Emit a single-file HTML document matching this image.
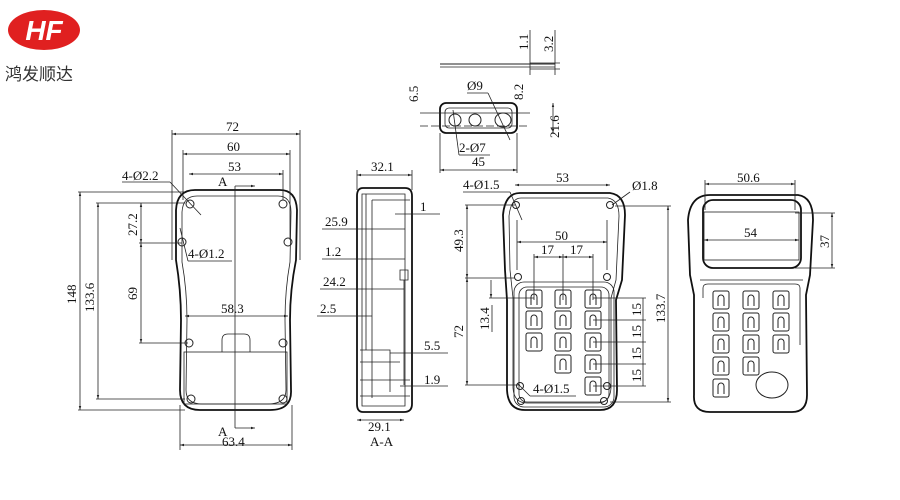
<!DOCTYPE html>
<html><head><meta charset="utf-8"><style>
body{margin:0;background:#fff;}
svg{display:block;}
text{font-family:"Liberation Serif","Noto Serif CJK SC",serif;font-size:13px;fill:#111;}
.l{stroke:#222;stroke-width:1;fill:none;}
.t{stroke:#222;stroke-width:0.8;fill:none;}
.o{stroke:#111;stroke-width:1.8;fill:none;}
</style></head><body>
<svg width="900" height="500" viewBox="0 0 900 500" xmlns="http://www.w3.org/2000/svg">
<defs>
<marker id="a" viewBox="0 0 10 10" refX="10" refY="5" markerWidth="7" markerHeight="5" orient="auto-start-reverse"><path d="M0,2L10,5L0,8z" fill="#222"/></marker>
<g id="key"><rect x="-8" y="-9" width="16" height="18" rx="2" class="l"/><path d="M-3,6V-2A3,3 0 1 1 3,-2V6" class="l"/></g>
</defs>
<!-- logo -->
<ellipse cx="44" cy="30" rx="36" ry="20" fill="#e02020"/>
<text x="44" y="40" text-anchor="middle" style="font-family:'Liberation Sans',sans-serif;font-size:28px;font-weight:bold;font-style:italic;fill:#fff">HF</text>
<text x="5" y="80" style="font-family:'Liberation Sans','Noto Sans CJK SC',sans-serif;font-size:17px;fill:#333">鸿发顺达</text>

<!-- VIEW 1 -->
<path class="o" d="M195,190 H280 Q296,190 297,210 L296,260 Q290,290 290,320 L291,390 Q292,410 270,410 H200 Q180,410 180,390 L181,320 Q181,290 176,260 L176,210 Q177,190 195,190Z"/>
<path class="t" d="M197,196 H278 Q291,196 291,212 L290,262 Q285,290 285,320 L286,390 Q286,404 268,404 H202 Q186,404 186,390 L187,320 Q187,290 182,262 L182,212 Q183,196 197,196Z"/>
<rect x="184" y="352" width="103" height="52" class="t"/>
<path class="t" d="M222,352 V340 Q222,334 228,334 H244 Q250,334 250,340 V352"/>
<circle cx="190" cy="204" r="4" class="l"/><circle cx="283" cy="204" r="4" class="l"/>
<circle cx="182" cy="242" r="4" class="l"/><circle cx="288" cy="242" r="4" class="l"/>
<circle cx="189" cy="343" r="4" class="l"/><circle cx="283" cy="343" r="4" class="l"/>
<circle cx="191" cy="399" r="4" class="l"/><circle cx="283" cy="399" r="4" class="l"/>
<line x1="235" y1="186" x2="235" y2="428" class="t"/>
<line x1="235" y1="186" x2="255" y2="186" class="t" marker-end="url(#a)"/>
<line x1="235" y1="428" x2="255" y2="428" class="t" marker-end="url(#a)"/>
<text x="218" y="186">A</text><text x="218" y="436">A</text>
<line x1="172" y1="134" x2="300" y2="134" class="t" marker-start="url(#a)" marker-end="url(#a)"/>
<line x1="172" y1="130" x2="172" y2="260" class="t"/><line x1="300" y1="130" x2="300" y2="260" class="t"/>
<text x="226" y="131">72</text>
<line x1="183" y1="154" x2="290" y2="154" class="t" marker-start="url(#a)" marker-end="url(#a)"/>
<line x1="183" y1="150" x2="183" y2="200" class="t"/><line x1="290" y1="150" x2="290" y2="240" class="t"/>
<text x="227" y="151">60</text>
<line x1="189" y1="174" x2="283" y2="174" class="t" marker-start="url(#a)" marker-end="url(#a)"/>
<line x1="283" y1="170" x2="283" y2="200" class="t"/>
<text x="228" y="171">53</text>
<text x="122" y="180">4-Ø2.2</text><line x1="122" y1="182" x2="170" y2="182" class="t"/><line x1="170" y1="182" x2="201" y2="215" class="t"/>
<text x="188" y="258">4-Ø1.2</text><line x1="188" y1="261" x2="232" y2="261" class="t"/><line x1="188" y1="261" x2="180" y2="228" class="t"/>
<line x1="80" y1="192" x2="80" y2="410" class="t" marker-start="url(#a)" marker-end="url(#a)"/>
<line x1="78" y1="192" x2="185" y2="192" class="t"/><line x1="78" y1="410" x2="185" y2="410" class="t"/>
<text transform="translate(76,304) rotate(-90)">148</text>
<line x1="98" y1="203" x2="98" y2="399" class="t" marker-start="url(#a)" marker-end="url(#a)"/>
<line x1="96" y1="203" x2="185" y2="203" class="t"/><line x1="96" y1="399" x2="185" y2="399" class="t"/>
<text transform="translate(94,312) rotate(-90)">133.6</text>
<line x1="141" y1="203" x2="141" y2="243" class="t" marker-start="url(#a)" marker-end="url(#a)"/>
<line x1="139" y1="243" x2="182" y2="243" class="t"/>
<text transform="translate(137,236) rotate(-90)">27.2</text>
<line x1="141" y1="243" x2="141" y2="343" class="t" marker-start="url(#a)" marker-end="url(#a)"/>
<line x1="139" y1="343" x2="188" y2="343" class="t"/>
<text transform="translate(137,300) rotate(-90)">69</text>
<line x1="185" y1="316" x2="288" y2="316" class="t" marker-start="url(#a)" marker-end="url(#a)"/>
<text x="221" y="313">58.3</text>
<line x1="180" y1="445" x2="292" y2="445" class="t" marker-start="url(#a)" marker-end="url(#a)"/>
<line x1="180" y1="405" x2="180" y2="450" class="t"/><line x1="292" y1="405" x2="292" y2="450" class="t"/>
<text x="222" y="446">63.4</text>

<!-- VIEW 2 section -->
<path class="o" d="M363,188 H405 Q412,188 412,196 V404 Q412,412 404,412 H363 Q357,412 357,404 V196 Q357,188 363,188Z"/>
<path class="t" d="M362,194 H405 V406 H362 Z M366,194 V350 M372,200 H410 M372,200 V398 M400,270 H408 V280 H400Z M404,280 V385 M360,350 H390 V392 M360,362 H400 M360,380 H410 M360,396 H410"/>
<line x1="357" y1="175" x2="412" y2="175" class="t" marker-start="url(#a)" marker-end="url(#a)"/>
<line x1="357" y1="170" x2="357" y2="190" class="t"/><line x1="412" y1="170" x2="412" y2="190" class="t"/>
<text x="371" y="171">32.1</text>
<line x1="357" y1="420" x2="404" y2="420" class="t" marker-start="url(#a)" marker-end="url(#a)"/>
<text x="368" y="431">29.1</text>
<text x="370" y="446">A-A</text>
<text x="325" y="226">25.9</text><line x1="322" y1="229" x2="405" y2="229" class="t"/>
<text x="325" y="256">1.2</text><line x1="322" y1="259" x2="405" y2="259" class="t"/>
<text x="323" y="286">24.2</text><line x1="320" y1="289" x2="404" y2="289" class="t"/>
<text x="320" y="313">2.5</text><line x1="317" y1="316" x2="372" y2="316" class="t"/>
<text x="420" y="211">1</text><line x1="395" y1="214" x2="440" y2="214" class="t"/>
<text x="424" y="350">5.5</text><line x1="390" y1="353" x2="448" y2="353" class="t"/>
<text x="424" y="384">1.9</text><line x1="400" y1="386" x2="448" y2="386" class="t"/>

<!-- top part -->
<line x1="440" y1="64" x2="555" y2="64" class="l"/><line x1="440" y1="67" x2="555" y2="67" class="t"/>
<line x1="530" y1="63" x2="560" y2="63" class="t"/><line x1="530" y1="69" x2="560" y2="69" class="t"/>
<line x1="530" y1="30" x2="530" y2="75" class="t"/><line x1="555" y1="30" x2="555" y2="75" class="t"/>
<text transform="translate(528,50) rotate(-90)">1.1</text><text transform="translate(553,52) rotate(-90)">3.2</text>
<rect x="440" y="103" width="77" height="30" rx="6" class="o"/>
<rect x="445" y="108" width="67" height="20" rx="4" class="t"/>
<line x1="420" y1="113" x2="530" y2="113" class="t"/><line x1="420" y1="126" x2="530" y2="126" class="t" stroke-dasharray="8,3"/>
<ellipse cx="455" cy="120" rx="6" ry="6" class="l"/><ellipse cx="475" cy="120" rx="6" ry="6" class="l"/><ellipse cx="503" cy="120" rx="8" ry="7" class="l"/>
<text transform="translate(418,102) rotate(-90)">6.5</text>
<text transform="translate(523,100) rotate(-90)">8.2</text>
<text transform="translate(559,138) rotate(-90)">21.6</text>
<line x1="553" y1="103" x2="553" y2="133" class="t" marker-start="url(#a)" marker-end="url(#a)"/>
<text x="467" y="90">Ø9</text><line x1="467" y1="93" x2="488" y2="93" class="t"/><line x1="488" y1="93" x2="510" y2="140" class="t"/>
<text x="459" y="152">2-Ø7</text><line x1="459" y1="155" x2="490" y2="155" class="t"/><line x1="459" y1="155" x2="453" y2="110" class="t"/>
<line x1="440" y1="170" x2="517" y2="170" class="t" marker-start="url(#a)" marker-end="url(#a)"/>
<line x1="440" y1="133" x2="440" y2="173" class="t"/><line x1="517" y1="133" x2="517" y2="173" class="t"/>
<text x="472" y="166">45</text>

<!-- VIEW 3 -->
<path class="o" d="M520,193 H610 Q625,195 625,215 L622,280 L616,300 L617,390 Q617,410 600,410 H525 Q508,410 507,390 L507,300 L505,270 L503,215 Q505,193 520,193Z"/>
<path class="t" d="M521,198 H608 Q619,200 619,216 L616,280 L611,298 L611,388 Q610,403 598,403 H527 Q514,403 513,388 L513,298 L510,270 L509,216 Q511,198 521,198Z"/>
<rect x="514" y="282" width="100" height="125" rx="10" class="t"/>
<rect x="519" y="287" width="90" height="115" rx="8" class="t"/>
<circle cx="516" cy="205" r="3.5" class="l"/><circle cx="610" cy="205" r="3.5" class="l"/>
<circle cx="518" cy="277" r="3.5" class="l"/><circle cx="607" cy="277" r="3.5" class="l"/>
<circle cx="520" cy="386" r="3.5" class="l"/><circle cx="607" cy="386" r="3.5" class="l"/>
<circle cx="521" cy="401" r="3.5" class="l"/><circle cx="604" cy="401" r="3.5" class="l"/>
<use href="#key" x="534" y="299"/><use href="#key" x="563" y="299"/><use href="#key" x="593" y="299"/>
<use href="#key" x="534" y="320"/><use href="#key" x="563" y="320"/><use href="#key" x="593" y="320"/>
<use href="#key" x="534" y="342"/><use href="#key" x="563" y="342"/><use href="#key" x="593" y="342"/>
<use href="#key" x="563" y="364"/><use href="#key" x="593" y="364"/>
<use href="#key" x="593" y="386"/>
<line x1="515" y1="185" x2="610" y2="185" class="t" marker-start="url(#a)" marker-end="url(#a)"/>
<text x="556" y="182">53</text>
<text x="463" y="189">4-Ø1.5</text><line x1="463" y1="192" x2="510" y2="192" class="t"/><line x1="510" y1="192" x2="522" y2="220" class="t"/>
<text x="632" y="190">Ø1.8</text><line x1="630" y1="192" x2="612" y2="205" class="t"/>
<line x1="517" y1="242" x2="607" y2="242" class="t" marker-start="url(#a)" marker-end="url(#a)"/>
<line x1="517" y1="220" x2="517" y2="270" class="t"/><line x1="607" y1="220" x2="607" y2="270" class="t"/>
<text x="555" y="240">50</text>
<line x1="534" y1="257" x2="563" y2="257" class="t" marker-start="url(#a)" marker-end="url(#a)"/>
<line x1="563" y1="257" x2="593" y2="257" class="t" marker-start="url(#a)" marker-end="url(#a)"/>
<line x1="534" y1="254" x2="534" y2="300" class="t"/><line x1="563" y1="254" x2="563" y2="300" class="t"/><line x1="593" y1="254" x2="593" y2="300" class="t"/>
<text x="541" y="254">17</text><text x="570" y="254">17</text>
<line x1="467" y1="205" x2="467" y2="278" class="t" marker-start="url(#a)" marker-end="url(#a)"/>
<line x1="465" y1="205" x2="515" y2="205" class="t"/><line x1="465" y1="278" x2="515" y2="278" class="t"/>
<text transform="translate(463,252) rotate(-90)">49.3</text>
<line x1="467" y1="278" x2="467" y2="385" class="t" marker-start="url(#a)" marker-end="url(#a)"/>
<line x1="465" y1="385" x2="520" y2="385" class="t"/>
<text transform="translate(463,338) rotate(-90)">72</text>
<line x1="491" y1="280" x2="491" y2="298" class="t" marker-end="url(#a)"/>
<line x1="489" y1="298" x2="534" y2="298" class="t"/>
<text transform="translate(489,330) rotate(-90)">13.4</text><line x1="492" y1="332" x2="492" y2="305" class="t"/>
<text x="533" y="393">4-Ø1.5</text><line x1="530" y1="396" x2="576" y2="396" class="t"/><line x1="530" y1="396" x2="518" y2="384" class="t"/>
<line x1="643" y1="298" x2="643" y2="386" class="t"/>
<line x1="593" y1="298" x2="646" y2="298" class="t"/><line x1="593" y1="320" x2="646" y2="320" class="t"/><line x1="593" y1="342" x2="646" y2="342" class="t"/><line x1="593" y1="364" x2="646" y2="364" class="t"/><line x1="593" y1="386" x2="646" y2="386" class="t"/>
<text transform="translate(641,316) rotate(-90)">15</text><text transform="translate(641,338) rotate(-90)">15</text><text transform="translate(641,360) rotate(-90)">15</text><text transform="translate(641,382) rotate(-90)">15</text>
<line x1="668" y1="206" x2="668" y2="402" class="t" marker-start="url(#a)" marker-end="url(#a)"/>
<line x1="615" y1="206" x2="671" y2="206" class="t"/><line x1="610" y1="402" x2="671" y2="402" class="t"/>
<text transform="translate(665,323) rotate(-90)">133.7</text>

<!-- VIEW 4 -->
<path class="o" d="M710,195 H798 Q813,197 813,220 L810,275 L806,295 L807,395 Q807,412 792,412 H710 Q693,412 694,395 L694,295 L690,275 L688,220 Q690,195 710,195Z"/>
<rect x="703" y="200" width="98" height="68" rx="10" class="o"/>
<rect x="704" y="212" width="95" height="48" class="t"/>
<line x1="700" y1="280" x2="803" y2="280" class="t"/>
<path class="t" d="M703,298 V288 Q703,284 708,284 H795 Q800,284 800,288 V345"/>
<use href="#key" x="721" y="300"/><use href="#key" x="751" y="300"/><use href="#key" x="781" y="300"/>
<use href="#key" x="721" y="322"/><use href="#key" x="751" y="322"/><use href="#key" x="781" y="322"/>
<use href="#key" x="721" y="344"/><use href="#key" x="751" y="344"/><use href="#key" x="781" y="344"/>
<use href="#key" x="721" y="366"/><use href="#key" x="751" y="366"/>
<use href="#key" x="721" y="388"/>
<ellipse cx="772" cy="385" rx="16" ry="13" class="l"/>
<line x1="705" y1="184" x2="795" y2="184" class="t" marker-start="url(#a)" marker-end="url(#a)"/>
<line x1="705" y1="180" x2="705" y2="210" class="t"/><line x1="795" y1="180" x2="795" y2="210" class="t"/>
<text x="737" y="182">50.6</text>
<line x1="704" y1="240" x2="799" y2="240" class="t" marker-start="url(#a)" marker-end="url(#a)"/>
<text x="744" y="237">54</text>
<line x1="832" y1="213" x2="832" y2="268" class="t" marker-start="url(#a)" marker-end="url(#a)"/>
<line x1="795" y1="213" x2="835" y2="213" class="t"/><line x1="795" y1="268" x2="835" y2="268" class="t"/>
<text transform="translate(829,248) rotate(-90)">37</text>
</svg>
</body></html>
